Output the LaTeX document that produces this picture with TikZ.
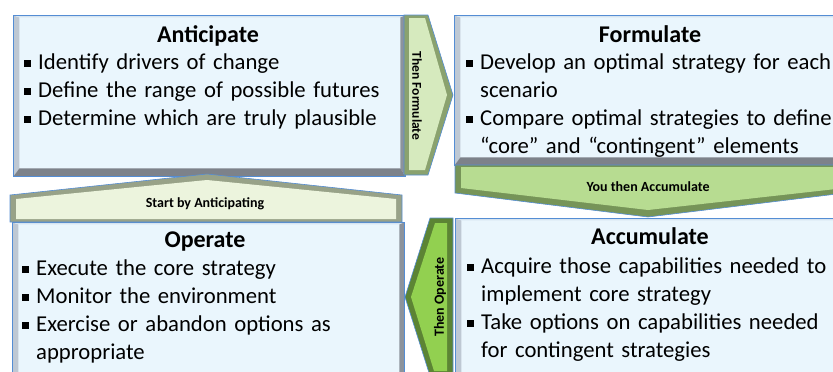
\documentclass[tikz,border=0pt]{standalone}
\usepackage{fontspec}
\setmainfont{Carlito}
\usetikzlibrary{positioning}

\definecolor{faceblue}{RGB}{234,246,253}
\definecolor{edgeblue}{RGB}{84,141,212}
\definecolor{bevelside}{RGB}{190,200,211}
\definecolor{beveltop}{RGB}{214,228,240}
\definecolor{bevelright}{RGB}{140,147,156}
\definecolor{bevelbottom}{RGB}{125,130,138}
\definecolor{paleface}{RGB}{214,234,190}
\definecolor{palebevel}{RGB}{138,162,110}
\definecolor{leafface}{RGB}{146,208,80}
\definecolor{leafbevel}{RGB}{92,132,52}
\definecolor{midface}{RGB}{183,220,145}
\definecolor{midbevel}{RGB}{118,148,88}
\definecolor{creamface}{RGB}{236,244,221}
\definecolor{creambevel}{RGB}{152,162,136}

% bullet point, and a wrapped line set under its text
\newcommand{\bpoint}{\noindent\makebox[14pt][l]{\rule[2.2pt]{6.5pt}{6.5pt}}}
\newcommand{\wrapline}{\newline\hspace*{14pt}}

\begin{document}
\begin{tikzpicture}
[x=1pt,y=-1pt,
  stagebox/.style={draw=edgeblue,line width=0.8pt,fill=faceblue,inner sep=0pt,
    anchor=north west,
    path picture={
      \fill[bevelside] (path picture bounding box.south west)
        -- (path picture bounding box.north west) -- ++(6pt,-2pt)
        -- ([shift={(6pt,8pt)}]path picture bounding box.south west) -- cycle;
      \fill[beveltop] (path picture bounding box.north west)
        -- (path picture bounding box.north east) -- ++(-5pt,-2pt)
        -- ([shift={(6pt,-2pt)}]path picture bounding box.north west) -- cycle;
      \fill[bevelright] (path picture bounding box.south east)
        -- (path picture bounding box.north east) -- ++(-5pt,-2pt)
        -- ([shift={(-5pt,8pt)}]path picture bounding box.south east) -- cycle;
      \fill[bevelbottom] (path picture bounding box.south west)
        -- (path picture bounding box.south east) -- ++(-5pt,8pt)
        -- ([shift={(6pt,8pt)}]path picture bounding box.south west) -- cycle;
    }},
  stagetitle/.style={anchor=base,inner sep=0pt,font=\fontsize{24}{28}\selectfont\bfseries},
  stagetext/.style={anchor=base west,inner sep=0pt,text width=420pt,align=left,
    font=\fontsize{22.7}{28}\selectfont},
  chevron/.style={draw=edgeblue,line width=0.6pt,line join=miter},
  steplabel/.style={inner sep=0pt,font=\fontsize{14}{16}\selectfont\bfseries}]
\useasboundingbox (0,0) rectangle (833,372);
\clip (0,0) rectangle (833,372);

%% the four stage boxes
\node[stagebox,minimum width=392pt,minimum height=161pt] (anticipate) at (13,15) {};
\node[stagebox,minimum width=392pt,minimum height=150pt] (formulate) at (454,15) {};
\node[stagebox,minimum width=392pt,minimum height=170pt] (accumulate) at (455,218) {};
\node[stagebox,minimum width=392pt,minimum height=170pt] (operate) at (12,222) {};

%% titles
\node[stagetitle] (anticipate-title) at (208,42) {Anticipate};
\node[stagetitle] (formulate-title) at (650,42) {Formulate};
\node[stagetitle] (accumulate-title) at (650,244) {Accumulate};
\node[stagetitle] (operate-title) at (205,247) {Operate};

%% bullet points
\node[stagetext] (anticipate-text) at (24,69) {%
  \bpoint Identify drivers of change\par
  \bpoint Define the range of possible futures\par
  \bpoint Determine which are truly plausible};
\node[stagetext] (formulate-text) at (466,69) {%
  \bpoint Develop an optimal strategy for each\wrapline scenario\par
  \bpoint Compare optimal strategies to define\wrapline “core” and “contingent” elements};
\node[stagetext] (accumulate-text) at (467,273) {%
  \bpoint Acquire those capabilities needed to\wrapline implement core strategy\par
  \bpoint Take options on capabilities needed\wrapline for contingent strategies};
\node[stagetext] (operate-text) at (22,275) {%
  \bpoint Execute the core strategy\par
  \bpoint Monitor the environment\par
  \bpoint Exercise or abandon options as\wrapline appropriate};

%% arrows between the stages
\filldraw[chevron,fill=palebevel] (404,15) -- (428,15) -- (453,95) -- (428,175) -- (404,175) -- cycle;
\fill[paleface] (409,18) -- (425,18) -- (447,95) -- (425,170) -- (409,170) -- cycle;
\node[steplabel,font=\fontsize{13.5}{15}\selectfont\bfseries,rotate=-90] (then-formulate) at (417,96) {Then Formulate};

\filldraw[chevron,fill=midbevel] (455,165) -- (845,165) -- (845,193) -- (648,217) -- (455,193) -- cycle;
\fill[midface] (461,167) -- (845,167) -- (845,188) -- (648,210) -- (461,188) -- cycle;
\node[steplabel] (then-accumulate) at (648,187) {You then Accumulate};

\filldraw[chevron,fill=leafbevel] (430,218) -- (453,218) -- (453,376) -- (430,376) -- (405,297) -- cycle;
\fill[leafface] (435,223) -- (447,223) -- (447,371) -- (434,371) -- (411,297) -- cycle;
\node[steplabel,rotate=90] (then-operate) at (440,297) {Then Operate};

\filldraw[chevron,fill=creambevel] (10,222) -- (10,195) -- (207,174) -- (402,195) -- (402,222) -- cycle;
\fill[creamface] (16,219) -- (16,199) -- (207,180) -- (396,199) -- (396,219) -- cycle;
\node[steplabel] (start-anticipating) at (205,204) {Start by Anticipating};
\end{tikzpicture}
\end{document}
